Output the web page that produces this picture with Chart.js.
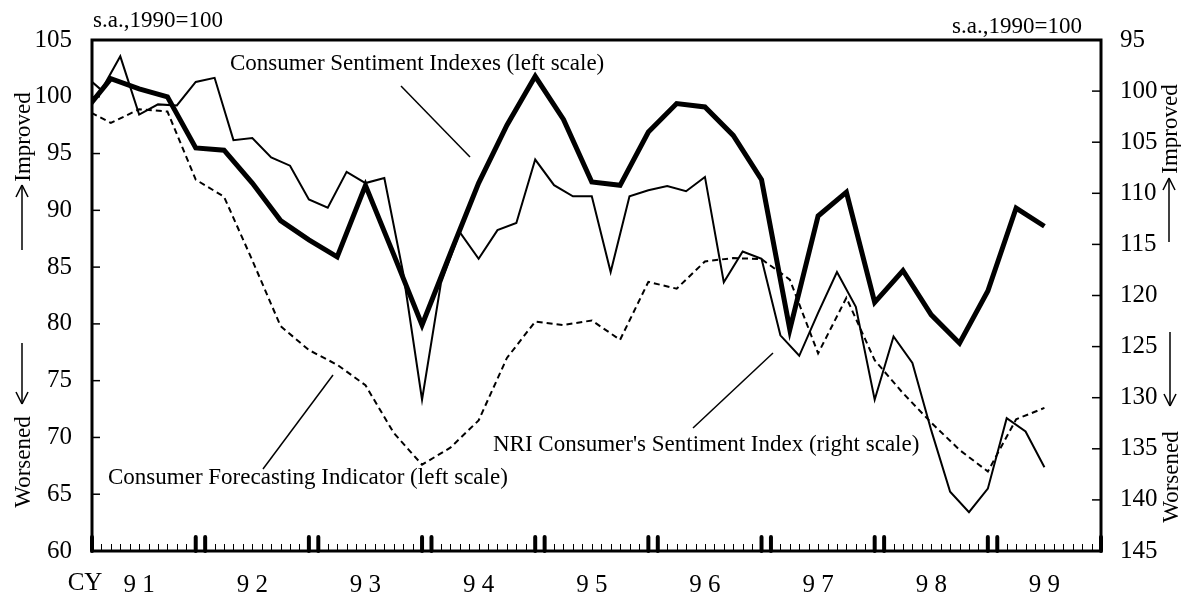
<!DOCTYPE html>
<html lang="en">
<head>
<meta charset="UTF-8">
<title>Consumer Sentiment Indexes</title>
<script src="https://cdn.jsdelivr.net/npm/chart.js"></script>
<style>
  body { margin: 0; background: #fff; }
  #chart { display: block; }
</style>
</head>
<body>
<canvas id="chart" width="1181" height="594"></canvas>
<script>
// x values are months counted from Jan 1991 (= 0)
const quarterMonths = [-1, 2, 5, 8, 11, 14, 17, 20, 23, 26, 29, 32, 35, 38, 41, 44, 47, 50,
  53, 56, 59, 62, 65, 68, 71, 74, 77, 80, 83, 86, 89, 92, 95, 98, 101];

// Consumer Sentiment Indexes (left scale)
const sentimentIdx = [98.5, 101.6, 100.7, 100.0, 95.5, 95.3, 92.4, 89.1, 87.4, 85.9, 92.2, 86.1,
  79.9, 86.2, 92.4, 97.5, 101.8, 98.0, 92.5, 92.2, 96.9, 99.4, 99.1, 96.6, 92.7, 79.5,
  89.5, 91.6, 81.9, 84.7, 80.8, 78.3, 82.9, 90.2, 88.6];

// Consumer Forecasting Indicator (left scale)
const forecastIdx = [99.0, 97.7, 98.9, 98.7, 92.7, 91.2, 85.6, 79.8, 77.7, 76.4, 74.6, 70.4,
  67.6, 69.1, 71.5, 77.0, 80.2, 79.9, 80.3, 78.6, 83.7, 83.1, 85.5, 85.8, 85.7, 83.9,
  77.4, 82.3, 76.8, 73.9, 71.3, 68.9, 67.0, 71.6, 72.6];

// NRI Consumer's Sentiment Index (right scale, inverted), every two months
const nriMonths = [-1, 1, 3, 5, 7, 9, 11, 13, 15, 17, 19, 21, 23, 25, 27, 29, 31, 33, 35, 37,
  39, 41, 43, 45, 47, 49, 51, 53, 55, 57, 59, 61, 63, 65, 67, 69, 71, 73, 75, 77, 79,
  81, 83, 85, 87, 89, 91, 93, 95, 97, 99, 101];
const nriIdx = [98.3, 99.9, 96.6, 102.3, 101.3, 101.4, 99.1, 98.7, 104.8, 104.6, 106.5, 107.3,
  110.6, 111.4, 107.9, 109.0, 108.5, 117.8, 130.2, 118.8, 113.8, 116.4, 113.6, 112.9,
  106.7, 109.2, 110.3, 110.3, 117.7, 110.3, 109.7, 109.3, 109.8, 108.4, 118.7, 115.7,
  116.4, 123.9, 125.9, 121.7, 117.7, 121.1, 130.2, 124.0, 126.6, 133.2, 139.2, 141.2,
  138.9, 132.0, 133.3, 136.8];

const yearLabels = ['9 1', '9 2', '9 3', '9 4', '9 5', '9 6', '9 7', '9 8', '9 9'];
const yearLabelMonths = [5, 17, 29, 41, 53, 65, 77, 89, 101];
const yearEdgeMonths = [0, 11, 12, 23, 24, 35, 36, 47, 48, 59, 60, 71, 72, 83, 84, 95, 96, 107];

const serif = '"Liberation Serif", "Times New Roman", serif';
const fontSize = 23;
const tickSize = 25;

function toPoints(xs, ys) {
  return xs.map((x, i) => ({ x: x, y: ys[i] }));
}

function line(ctx, x1, y1, x2, y2) {
  ctx.beginPath();
  ctx.moveTo(x1, y1);
  ctx.lineTo(x2, y2);
  ctx.stroke();
}

function vText(ctx, text, x, y) {
  ctx.save();
  ctx.translate(x, y);
  ctx.rotate(-Math.PI / 2);
  ctx.textAlign = 'center';
  ctx.textBaseline = 'middle';
  ctx.fillText(text, 0, 0);
  ctx.restore();
}

function arrow(ctx, x, yFrom, yTo) {
  const dir = yTo < yFrom ? 1 : -1;
  ctx.lineWidth = 1.5;
  line(ctx, x, yFrom, x, yTo);
  line(ctx, x, yTo, x - 6, yTo + dir * 12);
  line(ctx, x, yTo, x + 6, yTo + dir * 12);
}

const decor = {
  id: 'decor',
  beforeDraw(chart) {
    const ctx = chart.ctx;
    ctx.save();
    ctx.fillStyle = '#fff';
    ctx.fillRect(0, 0, chart.width, chart.height);
    ctx.restore();
  },
  afterDraw(chart) {
    const { ctx, chartArea: a, scales } = chart;
    const xs = scales.x, yl = scales.y, yr = scales.y2;
    ctx.save();
    ctx.strokeStyle = '#000';
    ctx.fillStyle = '#000';

    // inner ticks on the value axes
    ctx.lineWidth = 1.5;
    yl.ticks.forEach(t => {
      const p = yl.getPixelForValue(t.value);
      line(ctx, a.left, p, a.left + 8, p);
    });
    yr.ticks.forEach(t => {
      const p = yr.getPixelForValue(t.value);
      line(ctx, a.right - 9, p, a.right, p);
    });

    // monthly ticks on the time axis
    ctx.lineWidth = 1;
    for (let m = 0; m <= 107; m++) {
      const p = Math.round(xs.getPixelForValue(m)) + 0.5;
      line(ctx, p, a.bottom, p, a.bottom - 7);
    }
    ctx.lineWidth = 4;
    ctx.lineCap = 'round';
    yearEdgeMonths.forEach(m => {
      const p = xs.getPixelForValue(m);
      line(ctx, p, a.bottom, p, a.bottom - 14);
    });
    ctx.lineCap = 'butt';

    // frame
    ctx.lineWidth = 3;
    ctx.strokeRect(a.left, a.top, a.right - a.left, a.bottom - a.top);

    ctx.font = fontSize + 'px ' + serif;
    ctx.textBaseline = 'middle';

    ctx.textAlign = 'center';
    ctx.font = tickSize + 'px ' + serif;
    ctx.fillText('CY', 85, 583);
    ctx.font = fontSize + 'px ' + serif;

    ctx.textAlign = 'left';
    ctx.fillText('s.a.,1990=100', 93, 21);
    ctx.textAlign = 'right';
    ctx.fillText('s.a.,1990=100', 1082, 27);

    // series notes and leader lines
    ctx.textAlign = 'left';
    ctx.fillText('Consumer Sentiment Indexes (left scale)', 230, 64);
    ctx.fillText('Consumer Forecasting Indicator (left scale)', 108, 478);
    ctx.fillText("NRI Consumer's Sentiment Index (right scale)", 493, 445);
    ctx.lineWidth = 1.5;
    line(ctx, 401, 86, 470, 157);
    line(ctx, 263, 469, 333, 375);
    line(ctx, 693, 428, 773, 353);

    // direction captions
    vText(ctx, 'Improved', 24, 137);
    vText(ctx, 'Worsened', 24, 462);
    vText(ctx, 'Improved', 1171, 129);
    vText(ctx, 'Worsened', 1172, 477);
    arrow(ctx, 22, 250, 185);
    arrow(ctx, 22, 343, 404);
    arrow(ctx, 1169, 242, 178);
    arrow(ctx, 1170, 332, 406);

    ctx.restore();
  }
};

new Chart(document.getElementById('chart'), {
  type: 'line',
  data: {
    datasets: [
      {
        label: 'Consumer Forecasting Indicator',
        data: toPoints(quarterMonths, forecastIdx),
        yAxisID: 'y',
        borderColor: '#000',
        borderWidth: 2,
        borderDash: [6, 4],
        pointRadius: 0,
        tension: 0
      },
      {
        label: "NRI Consumer's Sentiment Index",
        data: toPoints(nriMonths, nriIdx),
        yAxisID: 'y2',
        borderColor: '#000',
        borderWidth: 2,
        pointRadius: 0,
        borderJoinStyle: 'miter',
        tension: 0
      },
      {
        label: 'Consumer Sentiment Indexes',
        data: toPoints(quarterMonths, sentimentIdx),
        yAxisID: 'y',
        borderColor: '#000',
        borderWidth: 5,
        pointRadius: 0,
        borderJoinStyle: 'miter',
        tension: 0
      }
    ]
  },
  options: {
    responsive: false,
    animation: false,
    layout: { padding: { top: 40, left: 0, right: 0, bottom: 0 } },
    plugins: {
      legend: { display: false },
      tooltip: { enabled: false }
    },
    scales: {
      x: {
        type: 'linear',
        min: 0,
        max: 107,
        grid: { display: false, drawTicks: false },
        border: { display: false },
        afterBuildTicks: s => { s.ticks = yearLabelMonths.map(v => ({ value: v })); },
        afterFit: s => { s.height = 43; },
        ticks: {
          autoSkip: false,
          maxRotation: 0,
          padding: 19,
          color: '#000',
          font: { family: serif, size: tickSize },
          callback: (v, i) => yearLabels[i]
        }
      },
      y: {
        position: 'left',
        min: 60,
        max: 105,
        grid: { display: false, drawTicks: false },
        border: { display: false },
        afterFit: s => { s.width = 92; },
        ticks: {
          stepSize: 5,
          padding: 20,
          color: '#000',
          font: { family: serif, size: tickSize }
        }
      },
      y2: {
        position: 'right',
        reverse: true,
        min: 95,
        max: 145,
        grid: { display: false, drawTicks: false },
        border: { display: false },
        afterFit: s => { s.width = 80; },
        ticks: {
          stepSize: 5,
          padding: 19,
          color: '#000',
          font: { family: serif, size: tickSize }
        }
      }
    }
  },
  plugins: [decor]
});
</script>
</body>
</html>
